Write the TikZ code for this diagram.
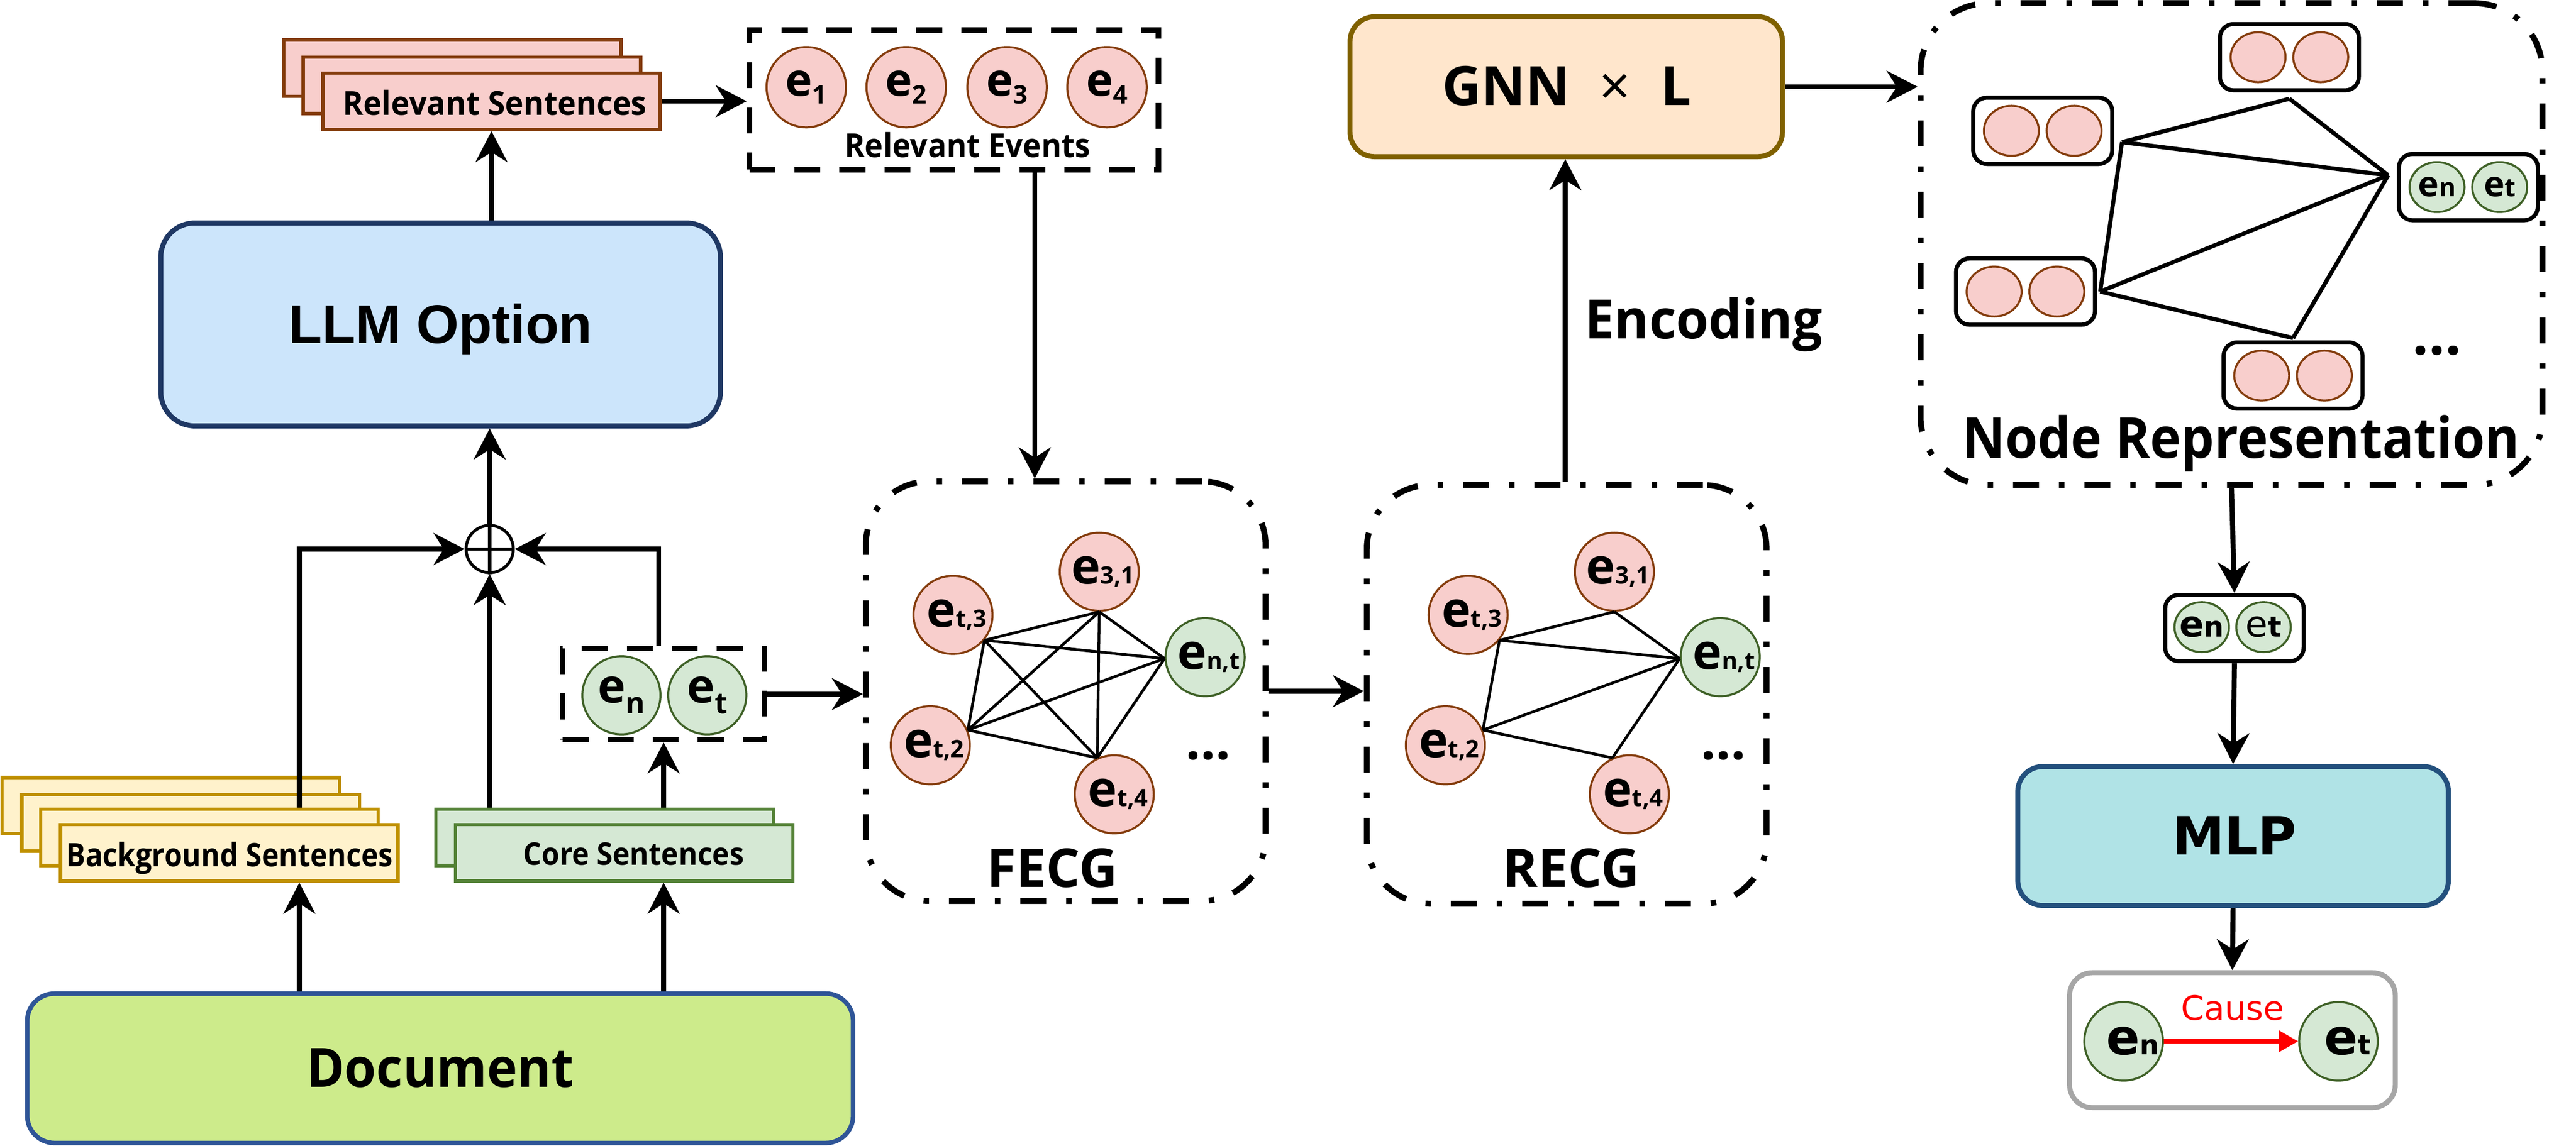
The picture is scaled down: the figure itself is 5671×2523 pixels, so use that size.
\documentclass[tikz,border=0pt]{standalone}
\usepackage{fontspec}
\usepackage{graphicx}
\usetikzlibrary{arrows.meta,shapes.geometric,calc}
\newfontfamily\ys{Open Sans}
\newfontfamily\ar{Liberation Sans}
\newfontfamily\dv{DejaVu Sans}
\definecolor{pinkf}{HTML}{F8CECC}
\definecolor{brownd}{HTML}{843C0C}
\definecolor{greenf}{HTML}{D5E8D4}
\definecolor{greend}{HTML}{3F6127}
\definecolor{greenb}{HTML}{538135}
\definecolor{goldd}{HTML}{BF9000}
\definecolor{goldf}{HTML}{FFF2CC}
\definecolor{llmf}{HTML}{CCE5FB}
\definecolor{llmd}{HTML}{1F3864}
\definecolor{docf}{HTML}{CDEB8B}
\definecolor{docd}{HTML}{2F5597}
\definecolor{gnnf}{HTML}{FFE6CC}
\definecolor{gnnd}{HTML}{7F6000}
\definecolor{mlpf}{HTML}{B0E3E6}
\definecolor{mlpd}{HTML}{23507D}
\definecolor{resd}{HTML}{A6A6A6}
\newcommand{\fs}[1]{\fontsize{#1}{#1}\selectfont}
\newcommand{\sx}[2]{\scalebox{#1}[1]{#2}}
\newcommand{\gl}[1]{{\ys\bfseries\fs{31pt}e\fs{15pt}#1}}
\newcommand{\rl}[1]{{\ys\bfseries\fs{28.5pt}e\raisebox{-1.7mm}{\fs{16pt}#1}}}
\newcommand{\pl}[1]{{\ys\bfseries\fs{29.5pt}e\raisebox{-2.4mm}{\fs{18.5pt}#1}}}
\newcommand{\nl}[1]{{\ys\bfseries\fs{22pt}e\fs{16pt}#1}}
\begin{document}
\begin{tikzpicture}[x=0.1mm,y=-0.1mm,
  every node/.style={inner sep=0pt},
  arr/.style={line width=1.1mm,-{Stealth[length=6.8mm,width=7mm,inset=2.2mm]}},
  redarr/.style={line width=1mm,draw=red,-{Triangle[length=4.3mm,width=4.6mm]}},
  stk/.style 2 args={rectangle,draw=#1,fill=#2,line width=0.75mm,minimum width=74.3mm,minimum height=12.4mm},
  dashbox/.style={rectangle,draw,line width=1.25mm,dash pattern=on 5.7mm off 4.2mm},
  ddbox/.style={rectangle,draw,line width=1.3mm,dash pattern=on 5.7mm off 4.4mm on 1.2mm off 4.4mm},
  pc/.style={ellipse,draw=brownd,fill=pinkf,line width=0.45mm},
  gc/.style={ellipse,draw=greend,fill=greenf,line width=0.45mm},
  gline/.style={line width=0.6mm},
  nline/.style={line width=0.9mm},
  pbox/.style={rectangle,draw,rounded corners=3mm,line width=0.9mm,minimum width=30.6mm,minimum height=14.6mm,fill=white},
  txt/.style={anchor=base,inner sep=0pt}
]
\useasboundingbox (0,0) rectangle (5671,2523);
% helper x positions
\coordinate (cL) at (659,0);
\coordinate (cP) at (1450,0);
\coordinate (cA) at (2278,0);
\coordinate (cE) at (3446,0);

% ---------- Relevant sentences stack
\node[stk={brownd}{pinkf}] (rsA) at (996,150) {};
\node[stk={brownd}{pinkf}] (rsB) at (1039,188) {};
\node[stk={brownd}{pinkf}] (rs) at (1082,223) {};
\node[txt] (tRS) at (1089,253) {\sx{0.945}{\ys\bfseries\fs{20.7pt}Relevant Sentences}};

% ---------- LLM box
\node[rectangle,draw=llmd,fill=llmf,line width=1.1mm,rounded corners=7.5mm,minimum width=123.2mm,minimum height=44.7mm] (llm) at (970,714.5) {};
\node[txt] (tLLM) at (970,756) {\ar\bfseries\fs{34.2pt}LLM Option};

% ---------- Background stack
\node[stk={goldd}{goldf}] (bgA) at (376,1774) {};
\node[stk={goldd}{goldf}] (bgB) at (420,1812) {};
\node[stk={goldd}{goldf}] (bgC) at (461,1844) {};
\node[stk={goldd}{goldf}] (bg) at (505,1878) {};
\node[txt] (tBG) at (505,1908) {\sx{0.89}{\ys\bfseries\fs{20.3pt}Background Sentences}};

% ---------- Core stack
\node[stk={greenb}{greenf}] (coreA) at (1331,1844) {};
\node[stk={greenb}{greenf}] (core) at (1374,1878) {};
\node[txt] (tCore) at (1395,1905) {\sx{0.93}{\ys\bfseries\fs{19.5pt}Core Sentences}};

% ---------- Document
\node[rectangle,draw=docd,fill=docf,line width=1mm,rounded corners=6mm,minimum width=181.8mm,minimum height=32.9mm] (doc) at (969,2352.5) {};
\node[txt] (tDoc) at (969,2394) {\sx{0.95}{\ys\bfseries\fs{33.9pt}Document}};

% ---------- oplus
\node[circle,draw,line width=0.65mm,minimum size=10.4mm] (op) at (1078,1209) {};
\draw[line width=0.7mm] (op.north) -- (op.south) (op.west) -- (op.east);

% ---------- en et dashed pair
\node[dashbox,line width=1.15mm,minimum width=44.4mm,minimum height=20.1mm] (pair) at (1461,1528.5) {};
\node[gc,minimum width=17.2mm,minimum height=17.2mm] (pn) at (1368,1531) {};
\node[gc,minimum width=17.2mm,minimum height=17.2mm] (pt) at (1557,1531) {};
\node (lpn) at (pn) {\pl{n}};
\node (lpt) at (pt) {\pl{t}};

% ---------- Relevant events
\node[dashbox,minimum width=90mm,minimum height=30.7mm] (rev) at (2100,220) {};
\foreach \i/\x in {1/1775,2/1995,3/2217,4/2437}{
  \node[pc,minimum width=17.5mm,minimum height=17.7mm] (re\i) at (\x,192) {};
  \node (lre\i) at (re\i) {\rl{\i}};
}
\node[txt] (tRE) at (2130,347) {\sx{0.935}{\ys\bfseries\fs{20.7pt}Relevant Events}};

% ---------- FECG
\node[ddbox,rounded corners=14mm,minimum width=88mm,minimum height=92.4mm] (fecg) at (2346,1522) {};
\node[pc,minimum width=17.4mm,minimum height=17.2mm] (f31) at (2420,1259) {};
\node[pc,minimum width=17.4mm,minimum height=17.2mm] (ft3) at (2098,1354) {};
\node[gc,minimum width=17.4mm,minimum height=17.2mm] (fnt) at (2653,1447) {};
\node[pc,minimum width=17.4mm,minimum height=17.2mm] (ft2) at (2048,1641) {};
\node[pc,minimum width=17.4mm,minimum height=17.2mm] (ft4) at (2453,1749) {};
\node (lf31) at ([xshift=0.8mm]f31) {\gl{3,1}};
\node (lft3) at ([xshift=0.8mm]ft3) {\gl{t,3}};
\node (lfnt) at ([xshift=0.8mm]fnt) {\gl{n,t}};
\node (lft2) at ([xshift=0.8mm]ft2) {\gl{t,2}};
\node (lft4) at ([xshift=0.8mm]ft4) {\gl{t,4}};
\coordinate (fA) at (ft3.-39);
\coordinate (fB) at (f31.south);
\coordinate (fC) at (fnt.182);
\coordinate (fD) at (ft2.22);
\coordinate (fE) at (ft4.115);
\draw[gline] (fA)--(fB) (fA)--(fC) (fA)--(fD) (fA)--(fE) (fB)--(fC) (fB)--(fD) (fB)--(fE) (fC)--(fD) (fC)--(fE) (fD)--(fE);
\node[txt] (fdots) at (2660,1672) {\ys\bfseries\fs{33pt}…};
\node[txt] (tF) at (2317,1954) {\ys\bfseries\fs{33.5pt}FECG};

% ---------- RECG
\node[ddbox,rounded corners=14mm,minimum width=88mm,minimum height=92.2mm] (recg) at (3449,1529) {};
\node[pc,minimum width=17.4mm,minimum height=17.2mm] (r31) at (3554,1259) {};
\node[pc,minimum width=17.4mm,minimum height=17.2mm] (rt3) at (3232,1354) {};
\node[gc,minimum width=17.4mm,minimum height=17.2mm] (rnt) at (3787,1447) {};
\node[pc,minimum width=17.4mm,minimum height=17.2mm] (rt2) at (3182,1641) {};
\node[pc,minimum width=17.4mm,minimum height=17.2mm] (rt4) at (3587,1749) {};
\node (lr31) at ([xshift=0.8mm]r31) {\gl{3,1}};
\node (lrt3) at ([xshift=0.8mm]rt3) {\gl{t,3}};
\node (lrnt) at ([xshift=0.8mm]rnt) {\gl{n,t}};
\node (lrt2) at ([xshift=0.8mm]rt2) {\gl{t,2}};
\node (lrt4) at ([xshift=0.8mm]rt4) {\gl{t,4}};
\coordinate (rA) at (rt3.-39);
\coordinate (rB) at (r31.south);
\coordinate (rC) at (rnt.182);
\coordinate (rD) at (rt2.22);
\coordinate (rE) at (rt4.115);
\draw[gline] (rA)--(rB) (rB)--(rC) (rA)--(rC) (rA)--(rD) (rD)--(rC) (rD)--(rE) (rE)--(rC);
\node[txt] (rdots) at (3794,1672) {\ys\bfseries\fs{33pt}…};
\node[txt] (tR) at (3459,1954) {\ys\bfseries\fs{33.5pt}RECG};

% ---------- GNN
\node[rectangle,draw=gnnd,fill=gnnf,line width=1.1mm,rounded corners=5.4mm,minimum width=95.2mm,minimum height=30.8mm] (gnn) at (3448,191) {};
\node[txt] (tG) at (3449,232) {\ys\bfseries\fs{34pt}GNN\hspace{6.6mm}{\mdseries ×}\hspace{6.6mm}L};
\node[txt] (tEnc) at (3751,746) {\sx{0.97}{\ys\bfseries\fs{34pt}Encoding}};

% ---------- Node representation
\node[ddbox,rounded corners=15mm,minimum width=136.9mm,minimum height=106.1mm] (nrep) at (4912.5,537.5) {};
\foreach \n/\x/\y in {B1/5040/126,B2/4497/288,B3/4459/642,B4/5048/827}{
  \node[pbox] (\n) at (\x,\y) {};
  \node[pc,minimum width=12.1mm,minimum height=11mm] (\n a) at ([xshift=-6.9mm]\n.center) {};
  \node[pc,minimum width=12.1mm,minimum height=11mm] (\n b) at ([xshift=6.9mm]\n.center) {};
}
\node[pbox] (B5) at (5434,412) {};
\node[gc,minimum width=12.1mm,minimum height=11mm] (B5a) at ([xshift=-6.9mm]B5.center) {};
\node[gc,minimum width=12.1mm,minimum height=11mm] (B5b) at ([xshift=6.9mm]B5.center) {};
\node (lB5a) at (B5a) {\nl{n}};
\node (lB5b) at (B5b) {\nl{t}};
\coordinate (nP1) at ([yshift=-1.4mm]B1.south);
\coordinate (nP2) at ([xshift=1.7mm,yshift=-2.5mm]B2.east);
\coordinate (nP3) at ([xshift=0.7mm]B3.east);
\coordinate (nP4) at ([yshift=0.5mm]B4.north);
\coordinate (nP5) at ([xshift=-1.9mm,yshift=2.6mm]B5.west);
\draw[nline] (nP2)--(nP1) (nP1)--(nP5) (nP2)--(nP5) (nP2)--(nP3) (nP3)--(nP5) (nP3)--(nP4) (nP4)--(nP5);
\node[txt] (ndots) at (5365,781) {\ys\bfseries\fs{36pt}…};
\node[txt] (tNR) at (4934,1009) {\sx{0.925}{\ys\bfseries\fs{35.5pt}Node Representation}};

% ---------- small pair
\node[pbox,minimum width=30.5mm] (B6) at (4919,1383) {};
\node[gc,minimum width=12mm,minimum height=11mm] (B6a) at (4847,1381) {};
\node[gc,minimum width=12mm,minimum height=11mm] (B6b) at (4983,1381) {};
\node (lB6a) at (B6a) {\dv\bfseries\fs{22.7pt}e\fs{17.7pt}n};
\node (lB6b) at (B6b) {\dv\fs{22.7pt}e\bfseries\fs{17.7pt}t};

% ---------- MLP
\node[rectangle,draw=mlpd,fill=mlpf,line width=1.1mm,rounded corners=5.5mm,minimum width=94.8mm,minimum height=30.6mm] (mlp) at (4916,1841) {};
\node[txt] (tMLP) at (4919,1882) {\dv\bfseries\fs{33pt}MLP};

% ---------- Result
\node[rectangle,draw=resd,fill=white,line width=1.1mm,rounded corners=5mm,minimum width=71.7mm,minimum height=29.7mm] (res) at (4914.5,2290.5) {};
\node[gc,minimum size=17.3mm] (ren) at (4675,2293) {};
\node[gc,minimum size=17.3mm] (ret) at (5148,2293) {};
\node (lren) at ([xshift=2mm]ren.center) {\dv\bfseries\fs{31pt}e\fs{17pt}n};
\node (lret) at ([xshift=2mm]ret.center) {\dv\bfseries\fs{31pt}e\fs{17pt}t};
\draw[redarr] (ren.east) -- (ret.west);
\node[txt] (tCause) at (4915,2246) {\dv\fs{21pt}\color{red}Cause};

% ---------- Arrows
\draw[arr] (llm.north -| rs.south) -- (rs.south);
\draw[arr] (rs.east) -- (rs.east -| rev.west);
\draw[arr] (rev.south -| cA) -- (fecg.north -| cA);
\draw[arr] (bgC.north -| cL) |- (op.west);
\draw[arr] (coreA.north -| op.south) -- (op.south);
\draw[arr] (pair.north -| cP) |- (op.east);
\draw[arr] (op.north) -- (op.north |- llm.south);
\draw[arr] (coreA.north -| pair.south) -- (pair.south);
\draw[arr] (doc.north -| cL) -- (bg.south -| cL);
\draw[arr] (doc.north -| pair.south) -- (core.south -| pair.south);
\draw[arr] (pair.east) -- (pair.east -| fecg.west);
\draw[arr] (fecg.east) -- (fecg.east -| recg.west);
\draw[arr] (recg.north -| cE) -- (gnn.south -| cE);
\draw[arr] (gnn.east) -- (gnn.east -| nrep.west);
\draw[arr] (nrep.south) -- (B6.north);
\draw[arr] (B6.south) -- (mlp.north);
\draw[arr] (mlp.south) -- (res.north);
\end{tikzpicture}
\end{document}
